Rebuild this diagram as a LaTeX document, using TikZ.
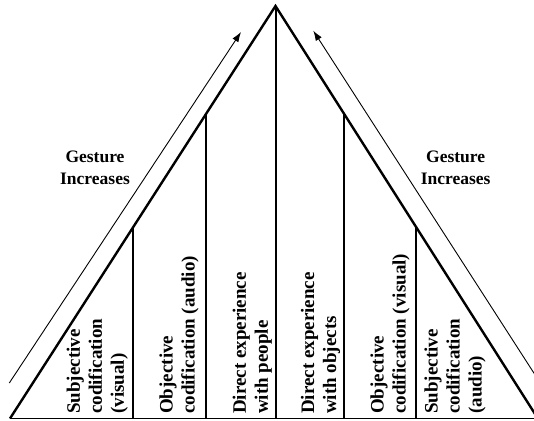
\documentclass[tikz,border=0pt]{standalone}
\usepackage{fontspec}
\setmainfont{Liberation Serif}
\usetikzlibrary{arrows.meta}
\begin{document}
\begin{tikzpicture}[x=1pt,y=-1pt,
  side/.style={line width=2.4pt,line join=miter},
  divider/.style={line width=2pt},
  baseln/.style={line width=1.8pt},
  growarrow/.style={line width=0.9pt,-{Latex[length=10pt,width=7pt]}},
  vlabel/.style={rotate=90,anchor=west,align=left,inner sep=0pt,
    font=\fontsize{19}{22}\selectfont\bfseries},
  hlabel/.style={align=center,inner sep=0pt,
    font=\fontsize{17.5}{22}\selectfont\bfseries}]
\useasboundingbox (0,0) rectangle (534,420);
\clip (0,0) rectangle (534,420);
% triangle points
\coordinate (apex) at (275.5,6);
\coordinate (L) at (10,418.5);
\coordinate (R) at (537.9,418.5);
\coordinate (BL) at (10,418.5);
\coordinate (BR) at (534,418.5);
% divider ends
\coordinate (d1t) at (133,227.4);
\coordinate (d1b) at (133,418.5);
\coordinate (d2t) at (206,114);
\coordinate (d2b) at (206,418.5);
\coordinate (d3b) at (275.5,418.5);
\coordinate (d4t) at (344,113.7);
\coordinate (d4b) at (344,418.5);
\coordinate (d5t) at (416,227);
\coordinate (d5b) at (416,418.5);
% arrows
\coordinate (a1s) at (9.3,383);
\coordinate (a1e) at (241,32);
\coordinate (a2s) at (540,382.5);
\coordinate (a2e) at (313.3,30.7);

\draw[side] (L) -- (apex) -- (R);
\draw[baseln] (BL) -- (BR);
\draw[divider] (d1t) -- (d1b);
\draw[divider] (d2t) -- (d2b);
\draw[divider] (apex) -- (d3b);
\draw[divider] (d4t) -- (d4b);
\draw[divider] (d5t) -- (d5b);
\draw[growarrow] (a1s) -- (a1e);
\draw[growarrow] (a2s) -- (a2e);

\node[hlabel] (gl) at (95,167.5) {Gesture\\Increases};
\node[hlabel] (gr) at (455.7,167.5) {Gesture\\Increases};

\node[vlabel] (c1) at (97.3,414) {Subjective\\codification\\(visual)};
\node[vlabel] (c2) at (179,414) {Objective\\codification (audio)};
\node[vlabel] (c3) at (252.3,414) {Direct experience\\with people};
\node[vlabel] (c4) at (320.5,414) {Direct experience\\with objects};
\node[vlabel] (c5) at (390,414) {Objective\\codification (visual)};
\node[vlabel] (c6) at (455,414) {Subjective\\codification\\(audio)};
\end{tikzpicture}
\end{document}
